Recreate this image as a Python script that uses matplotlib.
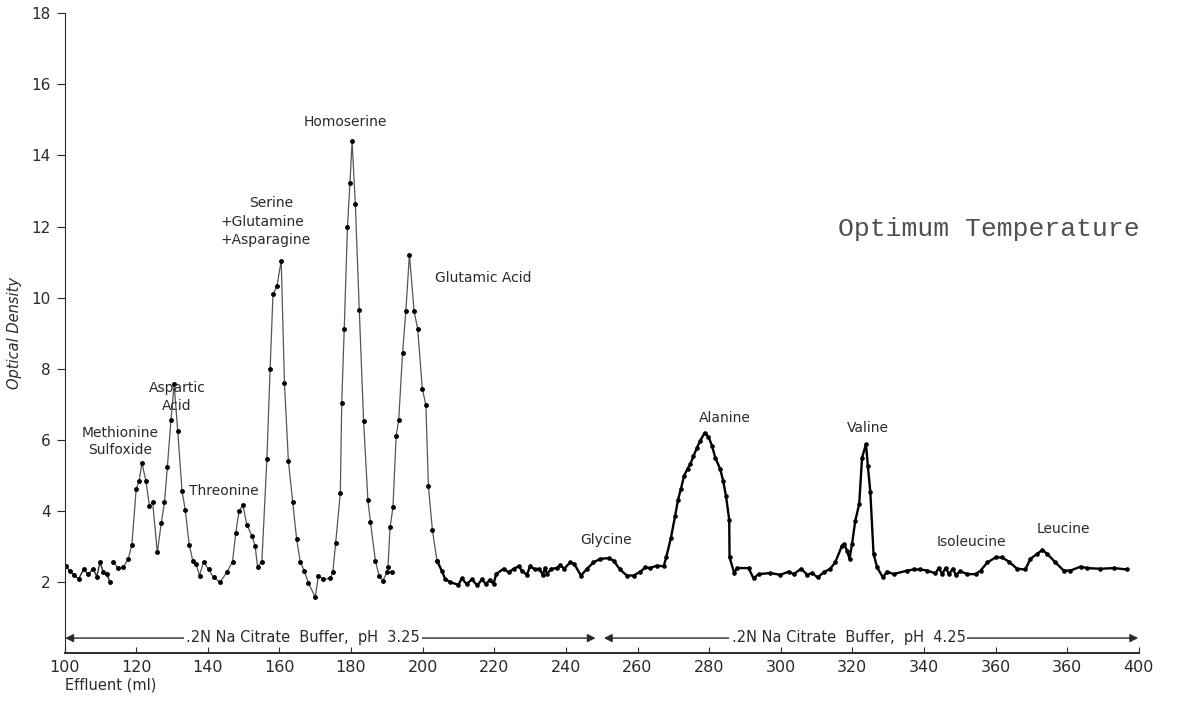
import matplotlib
matplotlib.use('Agg')
import matplotlib.pyplot as plt

# effluent volume (ml) and optical density, one pair per drawn stretch of the trace
ml_start = [100.3, 101.5, 102.7, 103.9, 105.3, 106.6, 108.0, 109.0, 109.9, 110.8, 111.8, 112.7]
od_start = [2.46, 2.30, 2.20, 2.08, 2.35, 2.22, 2.37, 2.15, 2.56, 2.28, 2.22, 1.99]

ml_early = [113.6, 115.0, 116.4, 117.8, 118.8, 120.0, 120.8, 121.6, 122.7, 123.7, 124.6, 125.9,
            127.0, 127.9, 128.7, 129.7, 130.6, 131.6, 132.8, 133.7, 134.8, 135.8, 136.7, 137.7,
            138.8, 140.2, 141.6, 143.4, 145.3, 146.9, 147.8, 148.7, 149.8, 150.9, 152.3, 153.2,
            153.9, 155.1, 156.5, 157.4, 158.2, 159.3, 160.5, 161.4, 162.5, 163.7, 164.8, 165.8,
            166.9, 168.1, 170.0, 170.9, 172.3, 174.2, 174.9, 175.7, 177.0, 177.4, 178.1, 179.0,
            179.7, 180.3, 181.2, 182.3, 183.5, 184.7, 185.4, 186.8, 187.8, 188.9, 190.0, 191.4]
od_early = [2.57, 2.38, 2.41, 2.65, 3.05, 4.61, 4.83, 5.35, 4.85, 4.14, 4.24, 2.83,
            3.65, 4.24, 5.22, 6.55, 7.56, 6.25, 4.56, 4.03, 3.05, 2.60, 2.51, 2.18,
            2.57, 2.35, 2.13, 1.99, 2.27, 2.57, 3.37, 3.99, 4.16, 3.61, 3.30, 3.02,
            2.43, 2.57, 5.46, 7.98, 10.09, 10.32, 11.04, 7.61, 5.41, 4.26, 3.21, 2.57,
            2.32, 1.97, 1.57, 2.18, 2.08, 2.10, 2.27, 3.09, 4.50, 7.03, 9.13, 11.98,
            13.23, 14.40, 12.62, 9.65, 6.53, 4.31, 3.70, 2.60, 2.18, 2.04, 2.27, 2.29]

ml_glu = [190.3, 190.9, 191.7, 192.6, 193.3, 194.4, 195.3, 196.3, 197.6, 198.6, 199.9, 200.9,
          201.6, 202.7, 204.0]
od_glu = [2.41, 3.54, 4.10, 6.11, 6.55, 8.45, 9.62, 11.21, 9.62, 9.13, 7.44, 6.97,
          4.71, 3.47, 2.60]

ml_late = [204.0, 205.4, 206.3, 207.7, 210.0, 210.9, 212.3, 213.7, 215.3, 216.5, 217.7, 218.7,
           219.8, 220.5, 222.6, 224.0, 225.4, 226.8, 227.7, 229.1, 230.0, 231.4, 232.6, 233.5,
           234.2, 234.7, 235.9, 237.5, 238.4, 239.5, 241.2, 242.3, 244.2, 245.9, 247.7, 249.6,
           251.9, 253.3, 255.1, 257.0, 258.9, 260.8, 262.2, 263.5, 265.4, 267.3, 268.0, 269.3,
           270.5, 271.3, 272.1, 273.0, 274.0, 274.7, 275.6, 276.6, 277.5, 278.7, 279.8, 280.8,
           281.7, 283.1, 283.9, 284.7, 285.6, 285.7, 287.0, 287.8, 291.0, 292.4, 293.8, 297.1,
           299.9, 302.2, 303.6, 305.7, 307.4, 308.7, 310.3, 312.0, 313.8, 315.2, 317.1, 317.7,
           318.5, 319.2, 319.9, 320.8, 321.9, 322.7, 323.8, 324.3, 325.0, 325.9, 326.9, 328.5,
           329.7, 331.5, 335.3, 337.1, 339.0, 340.9, 343.2, 344.1, 345.1, 346.0, 347.0, 348.0,
           348.9, 350.1, 352.1, 354.4, 355.8, 357.7, 360.0, 361.8, 363.7, 366.0, 368.3, 369.7,
           371.6, 373.0, 374.4, 376.7, 379.0, 380.9, 383.7, 385.5, 389.2, 393.0, 396.7]
od_late = [2.60, 2.30, 2.08, 1.99, 1.92, 2.10, 1.94, 2.07, 1.90, 2.07, 1.94, 2.06,
           1.94, 2.22, 2.37, 2.27, 2.37, 2.44, 2.32, 2.20, 2.44, 2.35, 2.37, 2.20,
           2.39, 2.22, 2.37, 2.39, 2.48, 2.37, 2.55, 2.51, 2.18, 2.37, 2.55, 2.65,
           2.67, 2.60, 2.35, 2.18, 2.18, 2.29, 2.41, 2.39, 2.46, 2.44, 2.69, 3.23,
           3.86, 4.31, 4.61, 4.99, 5.19, 5.31, 5.53, 5.78, 5.97, 6.19, 6.09, 5.83,
           5.50, 5.17, 4.85, 4.42, 3.75, 2.69, 2.25, 2.39, 2.39, 2.10, 2.22, 2.25,
           2.20, 2.29, 2.22, 2.37, 2.20, 2.25, 2.13, 2.27, 2.37, 2.55, 3.02, 3.07,
           2.88, 2.65, 3.07, 3.72, 4.19, 5.50, 5.88, 5.27, 4.54, 2.79, 2.41, 2.13,
           2.29, 2.22, 2.32, 2.35, 2.35, 2.32, 2.24, 2.39, 2.22, 2.39, 2.22, 2.37,
           2.20, 2.30, 2.22, 2.22, 2.32, 2.55, 2.69, 2.69, 2.57, 2.37, 2.35, 2.65,
           2.79, 2.90, 2.79, 2.55, 2.32, 2.32, 2.43, 2.39, 2.37, 2.39, 2.35]

x_ticks = [100, 120, 140, 160, 180, 200, 220, 240, 260, 280, 300, 320, 340, 360, 380, 400]
x_tick_labels = ['100', '120', '140', '160', '180', '200', '220', '240', '260', '280',
                 '300', '320', '340', '360', '360', '400']
y_ticks = [2, 4, 6, 8, 10, 12, 14, 16, 18]

ink = '#2a2a2a'

fig = plt.figure(figsize=(11.78, 7.03), dpi=100)
ax = fig.add_axes([0.0548, 0.0711, 0.912, 0.910])

ax.plot(ml_start, od_start, color=ink, lw=1.0, marker='o', ms=2.5, mfc='black', mec='black')
ax.plot(ml_early, od_early, color='#555555', lw=0.9, marker='o', ms=2.5, mfc='black', mec='black')
ax.plot(ml_glu, od_glu, color='#555555', lw=0.9, marker='o', ms=2.5, mfc='black', mec='black')
ax.plot(ml_late, od_late, color='black', lw=1.7, marker='o', ms=2.3, mfc='black', mec='black')

ax.set_xlim(100, 400)
ax.set_ylim(0, 18)
ax.spines['top'].set_visible(False)
ax.spines['right'].set_visible(False)
ax.spines['left'].set_color(ink)
ax.spines['bottom'].set_color(ink)
ax.spines['bottom'].set_linewidth(1.4)

ax.set_xticks(x_ticks)
ax.set_xticklabels(x_tick_labels, fontsize=11.5, color=ink)
ax.set_yticks(y_ticks)
ax.set_yticklabels([str(v) for v in y_ticks], fontsize=11, color=ink)
ax.tick_params(axis='x', direction='in', length=4, pad=5, color=ink)
ax.tick_params(axis='y', direction='out', length=6, pad=4, color=ink)

ax.set_xlabel('Effluent (ml)', loc='left', fontsize=10.5, color=ink, labelpad=2)
ax.set_ylabel('Optical Density', fontsize=10.5, style='italic', color=ink, labelpad=14)
ax.yaxis.set_label_coords(-0.04, 0.5)

# peak names
lab = dict(fontsize=10, color=ink, ha='center', va='center')
ax.text(115.5, 5.95, 'Methionine\nSulfoxide', linespacing=1.3, **lab)
ax.text(131.4, 7.2, 'Aspartic\nAcid', linespacing=1.3, **lab)
ax.text(144.4, 4.56, 'Threonine', **lab)
ax.text(157.8, 12.65, 'Serine', **lab)
ax.text(143.6, 12.14, '+Glutamine', fontsize=10, color=ink, ha='left', va='center')
ax.text(143.6, 11.63, '+Asparagine', fontsize=10, color=ink, ha='left', va='center')
ax.text(178.4, 14.95, 'Homoserine', **lab)
ax.text(216.9, 10.54, 'Glutamic Acid', **lab)
ax.text(251.3, 3.18, 'Glycine', **lab)
ax.text(284.5, 6.61, 'Alanine', **lab)
ax.text(324.4, 6.32, 'Valine', **lab)
ax.text(353.2, 3.13, 'Isoleucine', **lab)
ax.text(378.8, 3.49, 'Leucine', **lab)

ax.text(358.2, 11.92, 'Optimum Temperature', fontsize=19, family='Liberation Mono',
        color='#505050', ha='center', va='center')

# buffer ranges along the bottom
arrow = dict(arrowstyle='<|-|>', color=ink, lw=1.0, mutation_scale=12, shrinkA=0, shrinkB=0)
ax.annotate('', xy=(100.2, 0.42), xytext=(248.3, 0.42), arrowprops=arrow)
ax.annotate('', xy=(250.6, 0.42), xytext=(399.8, 0.42), arrowprops=arrow)
box = dict(facecolor='white', edgecolor='none', pad=1.5)
ax.text(166.6, 0.45, '.2N Na Citrate  Buffer,  pH  3.25', fontsize=10.5, color=ink,
        ha='center', va='center', bbox=box)
ax.text(318.9, 0.45, '.2N Na Citrate  Buffer,  pH  4.25', fontsize=10.5, color=ink,
        ha='center', va='center', bbox=box)

fig.savefig('out.png', dpi=100)
